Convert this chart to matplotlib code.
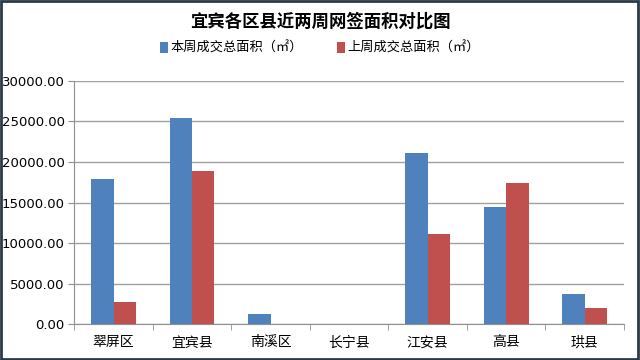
import matplotlib
matplotlib.use("Agg")
import matplotlib.pyplot as plt
import numpy as np
from matplotlib.patches import Rectangle

plt.rcParams['font.family'] = ['Noto Sans CJK SC', 'DejaVu Sans']

districts = ['翠屏区', '宜宾县', '南溪区', '长宁县', '江安县', '高县', '珙县']
this_week = [17850, 25400, 1230, 0, 21060, 14480, 3700]
last_week = [2700, 18840, 0, 0, 11160, 17370, 2040]
series_names = ['本周成交总面积（㎡）', '上周成交总面积（㎡）']
title = '宜宾各区县近两周网签面积对比图'

fig = plt.figure(figsize=(6.4, 3.6), dpi=100)
ax = fig.add_axes([0.116, 0.099, 0.859, 0.677])

x = np.arange(len(districts))
w = 0.285
b1 = ax.bar(x - w / 2, this_week, w, color='#4F81BD', label=series_names[0])
b2 = ax.bar(x + w / 2, last_week, w, color='#C0504D', label=series_names[1])

ax.set_xlim(-0.5, len(districts) - 0.5)
ax.set_ylim(0, 30000)
ax.set_yticks(np.arange(0, 30001, 5000))
ax.set_yticklabels([f'{v:.2f}' for v in np.arange(0, 30001, 5000)], fontsize=9.5, family='DejaVu Sans')
ax.yaxis.grid(True, color='#a0a0a0', linewidth=1)
ax.set_axisbelow(True)

ax.set_xticks(x)
ax.set_xticklabels(districts, fontsize=10)
ax.tick_params(axis='x', length=0, pad=8)
ax.set_xticks(np.arange(-0.5, len(districts)), minor=True)
ax.tick_params(axis='x', which='minor', length=4, color='#909090')
ax.tick_params(axis='y', length=4, color='#909090', pad=3)

for s in ['top', 'right']:
    ax.spines[s].set_visible(False)
for s in ['left', 'bottom']:
    ax.spines[s].set_color('#909090')

fig.text(0.5, 0.94, title, ha='center', va='center', fontsize=12.5, fontweight='bold')
fig.legend(handles=[b1, b2], loc='center', bbox_to_anchor=(0.5, 0.865), ncol=2,
           frameon=False, fontsize=9.5, handlelength=0.6, handleheight=0.9,
           handletextpad=0.2, columnspacing=2.6)

fig.patches.append(Rectangle((0.002, 0.004), 0.995, 0.992, transform=fig.transFigure,
                             fill=False, edgecolor='#2b3a48', linewidth=2))

fig.savefig('out.png', dpi=100)
